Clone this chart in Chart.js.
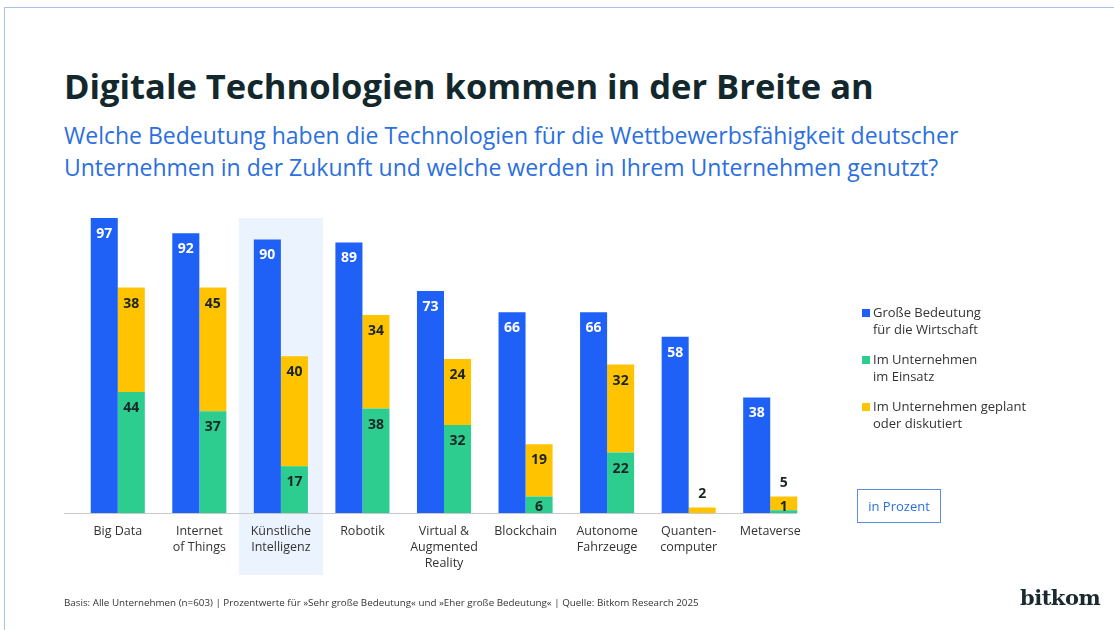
<!DOCTYPE html>
<html lang="de">
<head>
<meta charset="utf-8">
<script src="https://cdn.jsdelivr.net/npm/chart.js@4.4.1/dist/chart.umd.min.js"></script>
<style>
    body { margin: 0; background: #fff; font-family: "Open Sans", "Noto Sans", sans-serif; }
    #page { position: relative; width: 1114px; height: 630px; overflow: hidden; }
    #frame { position: absolute; left: 4px; top: 7px; right: -2px; bottom: -2px; border-left: 1px solid #a9c3ee; border-top: 1px solid #a9c3ee; }
    #title { position: absolute; left: 64px; top: 62px; font-size: 34.5px; font-weight: 700; color: #13282d; white-space: nowrap; }
    #subtitle { position: absolute; left: 64px; top: 119px; font-size: 23px; line-height: 32px; color: #2b6fe0; white-space: nowrap; }
    #chart-wrap { position: absolute; left: 0; top: 0; width: 1114px; height: 630px; }
    #legend { position: absolute; left: 862px; top: 304px; font-size: 13px; line-height: 17px; color: #333; }
    .legend-item { position: relative; padding-left: 11px; height: 47px; }
    .legend-box { position: absolute; left: 0; top: 5px; width: 8px; height: 8px; }
    #unit { position: absolute; left: 857px; top: 489px; width: 82px; height: 32px; border: 1px solid #5b8ee0; color: #2b6fe0; font-size: 13px; line-height: 32px; text-align: center; }
    #footnote { position: absolute; left: 64px; top: 596px; font-size: 9.8px; color: #333; white-space: nowrap; }
    #logo { position: absolute; left: 1020px; top: 585px; font-family: "DejaVu Serif", serif; font-size: 21px; font-weight: 700; color: #1b2a2e; letter-spacing: -0.5px; }
</style>
</head>
<body>
<div id="page">
    <div id="frame"></div>
    <div id="title">Digitale Technologien kommen in der Breite an</div>
    <div id="subtitle">Welche Bedeutung haben die Technologien für die Wettbewerbsfähigkeit deutscher<br>Unternehmen in der Zukunft und welche werden in Ihrem Unternehmen genutzt?</div>
    <div id="chart-wrap"><canvas id="chart" width="1114" height="630"></canvas></div>
    <div id="legend"></div>
    <div id="unit">in Prozent</div>
    <div id="footnote">Basis: Alle Unternehmen (n=603) | Prozentwerte für »Sehr große Bedeutung« und »Eher große Bedeutung« | Quelle: Bitkom Research 2025</div>
    <div id="logo">bitkom</div>
</div>
<script>
// categories (multi-line tick labels)
const categories = [
    ['Big Data'],
    ['Internet', 'of Things'],
    ['Künstliche', 'Intelligenz'],
    ['Robotik'],
    ['Virtual &', 'Augmented', 'Reality'],
    ['Blockchain'],
    ['Autonome', 'Fahrzeuge'],
    ['Quanten-', 'computer'],
    ['Metaverse']
];

const seriesLabels = [
    'Große Bedeutung\nfür die Wirtschaft',
    'Im Unternehmen\nim Einsatz',
    'Im Unternehmen geplant\noder diskutiert'
];

const bedeutung = [97, 92, 90, 89, 73, 66, 66, 58, 38];
const imEinsatz = [44, 37, 17, 38, 32, 6, 22, 0, 1];
const geplant = [38, 45, 40, 34, 24, 19, 32, 2, 5];

const highlightIndex = 2;

const colors = ['#1f60f7', '#2dcc8f', '#ffc300'];

// highlight column + baseline
const backgroundPlugin = {
    id: 'background',
    beforeDraw(chart) {
        const ctx = chart.ctx;
        const x = chart.scales.x;
        const area = chart.chartArea;
        const cx = x.getPixelForValue(highlightIndex);
        ctx.save();
        ctx.fillStyle = '#eaf3fe';
        ctx.fillRect(cx - 42, area.top + 9, 84, 357);
        ctx.restore();
    },
    afterDatasetsDraw(chart) {
        const ctx = chart.ctx;
        const area = chart.chartArea;
        ctx.save();
        ctx.strokeStyle = '#c9c9c9';
        ctx.lineWidth = 1;
        ctx.beginPath();
        ctx.moveTo(64, Math.round(area.bottom) + 0.5);
        ctx.lineTo(797, Math.round(area.bottom) + 0.5);
        ctx.stroke();
        ctx.restore();
    }
};

// value labels on bars
const valueLabelPlugin = {
    id: 'valueLabels',
    afterDatasetsDraw(chart) {
        const ctx = chart.ctx;
        ctx.save();
        ctx.font = 'bold 14px "Open Sans", sans-serif';
        ctx.textAlign = 'center';
        ctx.textBaseline = 'middle';
        chart.data.datasets.forEach((ds, di) => {
            const meta = chart.getDatasetMeta(di);
            meta.data.forEach((bar, i) => {
                const v = ds.data[i];
                if (!v) return;
                const h = bar.base - bar.y;
                let y = bar.y + 16;
                if (h < 22) {
                    y = di === 2 ? bar.y - 13 : bar.base - 6;
                }
                ctx.fillStyle = di === 0 ? '#ffffff' : '#1a2626';
                ctx.fillText(String(v), bar.x, y);
            });
        });
        ctx.restore();
    }
};

const chartElement = document.getElementById('chart');

new Chart(chartElement, {
    type: 'bar',
    data: {
        labels: categories,
        datasets: [
            {
                label: seriesLabels[0],
                data: bedeutung,
                backgroundColor: colors[0],
                yAxisID: 'y',
                stack: 'a'
            },
            {
                label: seriesLabels[1],
                data: imEinsatz,
                backgroundColor: colors[1],
                yAxisID: 'y2',
                stack: 'b'
            },
            {
                label: seriesLabels[2],
                data: geplant,
                backgroundColor: colors[2],
                yAxisID: 'y2',
                stack: 'b'
            }
        ]
    },
    options: {
        responsive: false,
        animation: false,
        categoryPercentage: 0.663,
        barPercentage: 1,
        layout: {
            padding: { left: 77, right: 303, top: 209, bottom: 49 }
        },
        scales: {
            x: {
                stacked: true,
                grid: { display: false, drawTicks: false },
                border: { display: false },
                ticks: {
                    color: '#333',
                    padding: 10,
                    font: { family: '"Open Sans", sans-serif', size: 12.5, lineHeight: 1.28 },
                    maxRotation: 0,
                    autoSkip: false
                }
            },
            y: {
                display: false,
                min: 0,
                max: 100
            },
            y2: {
                display: false,
                stacked: true,
                min: 0,
                max: 110.6
            }
        },
        plugins: {
            legend: { display: false },
            tooltip: { enabled: false }
        }
    },
    plugins: [backgroundPlugin, valueLabelPlugin]
});

// HTML legend built from the series labels
const legendEl = document.getElementById('legend');
seriesLabels.forEach((text, i) => {
    const item = document.createElement('div');
    item.className = 'legend-item';
    item.innerHTML = '<span class="legend-box" style="background:' + colors[i] + '"></span>' +
        text.replace('\n', '<br>');
    legendEl.appendChild(item);
});
</script>
</body>
</html>
